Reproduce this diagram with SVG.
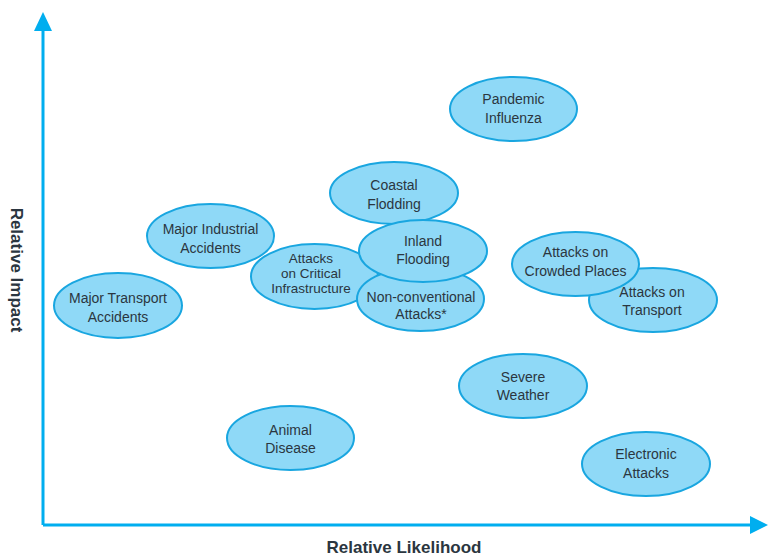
<svg xmlns="http://www.w3.org/2000/svg" width="768" height="557" viewBox="0 0 768 557">
<style>
.n ellipse{fill:#8fd9f7;stroke:#19a6e0;stroke-width:2}
.n text{font-family:"Liberation Sans",Arial,sans-serif;font-size:14px;fill:#2b3640;text-anchor:middle}
.n text.s{font-size:13.5px}
.ax{stroke:#00aeef;stroke-width:3;fill:none}
.ah{fill:#00aeef}
.lbl{font-family:"Liberation Sans",Arial,sans-serif;font-weight:bold;font-size:17px;fill:#2b3640;text-anchor:middle}
</style>
<rect width="768" height="557" fill="#fff"/>
<g id="axes">
<path class="ax" d="M43,525 V30 M43,525 H751"/>
<polygon class="ah" points="43,12 34,31 52,31"/>
<polygon class="ah" points="768,525 750,516 750,534"/>
<text class="lbl" x="404" y="553">Relative Likelihood</text>
<text class="lbl" x="11" y="270" transform="rotate(90 11 270)">Relative Impact</text>
</g>
<g id="connectors"></g>
<g id="n-pandemic" class="n"><ellipse cx="513.5" cy="109" rx="63.5" ry="32"/><text x="513.5" y="104">Pandemic</text><text x="513.5" y="123">Influenza</text></g>
<g id="n-industrial" class="n"><ellipse cx="210.5" cy="236" rx="63.5" ry="32"/><text x="210.5" y="234">Major Industrial</text><text x="210.5" y="253">Accidents</text></g>
<g id="n-transport-acc" class="n"><ellipse cx="118" cy="305.5" rx="64" ry="32.5"/><text x="118" y="303">Major Transport</text><text x="118" y="322">Accidents</text></g>
<g id="n-critical" class="n"><ellipse cx="314.5" cy="276.5" rx="63.5" ry="32.5"/><text class="s" x="311" y="263">Attacks</text><text class="s" x="311" y="278">on Critical</text><text class="s" x="311" y="293">Infrastructure</text></g>
<g id="n-nonconv" class="n"><ellipse cx="420.5" cy="299" rx="63.5" ry="32"/><text x="421" y="302">Non-conventional</text><text x="421" y="319">Attacks*</text></g>
<g id="n-coastal" class="n"><ellipse cx="394" cy="193" rx="64" ry="31"/><text x="394" y="190">Coastal</text><text x="394" y="209">Flodding</text></g>
<g id="n-inland" class="n"><ellipse cx="423" cy="251" rx="64" ry="31"/><text x="423" y="246">Inland</text><text x="423" y="264">Flooding</text></g>
<g id="n-transport" class="n"><ellipse cx="653" cy="300" rx="64" ry="32"/><text x="652" y="297">Attacks on</text><text x="652" y="315">Transport</text></g>
<g id="n-crowded" class="n"><ellipse cx="575.5" cy="264" rx="63.5" ry="32"/><text x="575.5" y="257">Attacks on</text><text x="575.5" y="276">Crowded Places</text></g>
<g id="n-severe" class="n"><ellipse cx="523" cy="386" rx="64" ry="32"/><text x="523" y="382">Severe</text><text x="523" y="400">Weather</text></g>
<g id="n-animal" class="n"><ellipse cx="290.5" cy="438" rx="63.5" ry="32"/><text x="290.5" y="435">Animal</text><text x="290.5" y="453">Disease</text></g>
<g id="n-electronic" class="n"><ellipse cx="646" cy="464" rx="64" ry="32"/><text x="646" y="459">Electronic</text><text x="646" y="478">Attacks</text></g>
</svg>
